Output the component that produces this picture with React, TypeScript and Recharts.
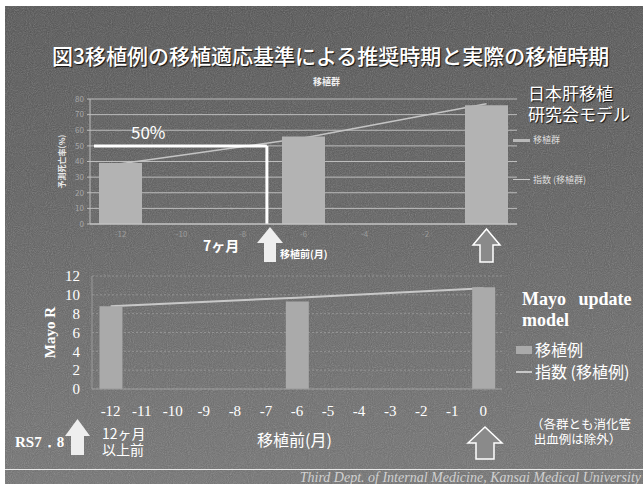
import React from 'react';
import { ComposedChart, Bar, Line, XAxis, YAxis, CartesianGrid, ReferenceLine } from 'recharts';

// ---- data: top chart (日本肝移植研究会モデル) ----
const topMonths = [-12, -6, 0];
const topGroupRates = [39, 56, 76]; // 移植群
const topIndexRates = [38.5, 55, 77]; // 指数 (移植群)
const topXTicks = [-12, -10, -8, -6, -4, -2];
const topYTicks = [0, 10, 20, 30, 40, 50, 60, 70, 80];
const thresholdRate = 50;
const thresholdMonth = -7.2;

// ---- data: bottom chart (Mayo update model) ----
const bottomMonths = [-12, -6, 0];
const bottomMayo = [8.8, 9.3, 10.8]; // 移植例
const bottomIndex = [8.8, 9.7, 10.7]; // 指数 (移植例)
const bottomXTicks = [-12, -11, -10, -9, -8, -7, -6, -5, -4, -3, -2, -1, 0];
const bottomYTicks = [0, 2, 4, 6, 8, 10, 12];

const topData = topMonths.map((m, i) => ({ month: m, group: topGroupRates[i], index: topIndexRates[i] }));
const bottomData = bottomMonths.map((m, i) => ({ month: m, group: bottomMayo[i], index: bottomIndex[i] }));

const JP = '"Noto Sans CJK JP", "Noto Sans", sans-serif';
const SERIF = '"Liberation Serif", "DejaVu Serif", serif';

const abs = (left: number, top: number, extra: React.CSSProperties = {}): React.CSSProperties => ({
  position: 'absolute',
  left,
  top,
  whiteSpace: 'nowrap',
  lineHeight: 1,
  ...extra,
});

export default function App() {
  return (
    <div
      style={{
        position: 'absolute',
        left: 0,
        top: 0,
        width: 643,
        height: 484,
        overflow: 'hidden',
        background: '#ffffff',
      }}
    >
      {/* slide background */}
      <div
        style={{
          position: 'absolute',
          left: 5,
          top: 6,
          width: 638,
          height: 478,
          background: 'linear-gradient(180deg, #515151 0%, #5a5a5a 35%, #676767 70%, #707070 100%)',
        }}
      />
      {/* noise overlay */}
      <svg width={643} height={484} style={{ position: 'absolute', left: 0, top: 0 }}>
        <filter id="noise" x="0" y="0" width="100%" height="100%">
          <feTurbulence type="fractalNoise" baseFrequency="0.95" numOctaves={2} seed={3} />
          <feColorMatrix type="saturate" values="0" />
          <feComponentTransfer>
            <feFuncA type="linear" slope={0.35} />
          </feComponentTransfer>
        </filter>
        <rect x={5} y={6} width={638} height={478} filter="url(#noise)" />
      </svg>

      {/* title */}
      <div
        style={abs(52, 45, {
          fontFamily: JP,
          fontSize: 21,
          fontWeight: 500,
          color: '#ffffff',
          textShadow: '1px 1px 1px #111',
        })}
      >
        図3移植例の移植適応基準による推奨時期と実際の移植時期
      </div>
      <div style={abs(313, 77, { fontFamily: JP, fontSize: 9, fontWeight: 700, color: '#f0f0f0' })}>移植群</div>

      {/* top chart */}
      <div style={{ position: 'absolute', left: 0, top: 80 }}>
        <ComposedChart width={540} height={190} data={topData} margin={{ top: 19, right: 23, bottom: 16, left: 50 }}>
          <CartesianGrid horizontal vertical={false} stroke="#bcbcbc" strokeWidth={1} />
          <XAxis
            dataKey="month"
            type="number"
            domain={[-13, 1]}
            ticks={topXTicks}
            interval={0}
            height={30}
            tickSize={0}
            tickMargin={7}
            axisLine={{ stroke: '#c8c8c8' }}
            tick={{ fill: '#9c9c9c', fontSize: 8, fontFamily: JP }}
          />
          <YAxis
            type="number"
            domain={[0, 80]}
            ticks={topYTicks}
            interval={0}
            width={40}
            tickSize={3}
            tickMargin={3}
            axisLine={{ stroke: '#bdbdbd' }}
            tickLine={{ stroke: '#bdbdbd' }}
            tick={{ fill: '#a8a8a8', fontSize: 8, fontFamily: JP }}
            label={{
              value: '予測死亡率(%)',
              angle: -90,
              position: 'insideLeft',
              offset: 12,
              style: { textAnchor: 'middle', fill: '#e8e8e8', fontSize: 8, fontFamily: JP, fontWeight: 700 },
            }}
          />
          <Line
            dataKey="index"
            type="linear"
            stroke="#c4c4c4"
            strokeWidth={1.5}
            dot={false}
            isAnimationActive={false}
            zIndex={250}
          />
          <Bar dataKey="group" fill="#b3b3b3" barSize={43} isAnimationActive={false} />
          <ReferenceLine
            segment={[
              { x: -12.87, y: thresholdRate },
              { x: thresholdMonth, y: thresholdRate },
            ]}
            stroke="#ffffff"
            strokeWidth={3}
            ifOverflow="visible"
          />
          <ReferenceLine
            segment={[
              { x: thresholdMonth, y: thresholdRate },
              { x: thresholdMonth, y: 0 },
            ]}
            stroke="#ffffff"
            strokeWidth={3}
            ifOverflow="visible"
          />
        </ComposedChart>
      </div>

      {/* top annotations */}
      <div style={abs(131, 123, { fontFamily: JP, fontSize: 17, color: '#ffffff' })}>50%</div>
      <div style={abs(203, 238, { fontFamily: JP, fontSize: 14, fontWeight: 700, color: '#ffffff' })}>7ヶ月</div>
      <div style={abs(280, 249, { fontFamily: JP, fontSize: 10, fontWeight: 700, color: '#ffffff' })}>移植前(月)</div>
      <div
        style={abs(528, 82, {
          fontFamily: JP,
          fontSize: 17,
          lineHeight: '21px',
          whiteSpace: 'pre',
          color: '#ffffff',
          textShadow: '1px 1px 1px #111',
        })}
      >
        {'日本肝移植\n研究会モデル'}
      </div>
      {/* top legend */}
      <div style={abs(513, 139, { width: 17, height: 3, background: '#b8b8b8' })} />
      <div style={abs(533, 135, { fontFamily: JP, fontSize: 9, color: '#dddddd' })}>移植群</div>
      <div style={abs(513, 179, { width: 17, height: 1, background: '#c8c8c8' })} />
      <div style={abs(533, 175, { fontFamily: JP, fontSize: 9, color: '#dddddd' })}>指数 (移植群)</div>

      {/* bottom chart */}
      <div style={{ position: 'absolute', left: 0, top: 260 }}>
        <ComposedChart width={530} height={180} data={bottomData} margin={{ top: 16, right: 28, bottom: 16, left: 42 }}>
          <CartesianGrid horizontal vertical={false} stroke="#939393" strokeDasharray="2 2" />
          <XAxis
            dataKey="month"
            type="number"
            domain={[-12.6, 0.6]}
            ticks={bottomXTicks}
            interval={0}
            height={35}
            tickSize={0}
            tickMargin={16}
            axisLine={{ stroke: '#9a9a9a' }}
            tick={{ fill: '#ffffff', fontSize: 15, fontFamily: SERIF }}
          />
          <YAxis
            type="number"
            domain={[0, 12]}
            ticks={bottomYTicks}
            interval={0}
            width={50}
            tickSize={0}
            tickMargin={12}
            axisLine={{ stroke: '#9a9a9a' }}
            tick={{ fill: '#ffffff', fontSize: 15, fontFamily: SERIF }}
            label={{
              value: 'Mayo R',
              angle: -90,
              position: 'insideLeft',
              offset: 8,
              style: { textAnchor: 'middle', fill: '#ffffff', fontSize: 15, fontFamily: SERIF, fontWeight: 700 },
            }}
          />
          <Line
            dataKey="index"
            type="linear"
            stroke="#c8c8c8"
            strokeWidth={2}
            dot={false}
            isAnimationActive={false}
            zIndex={250}
          />
          <Bar dataKey="group" fill="#aaaaaa" barSize={23} isAnimationActive={false} />
        </ComposedChart>
      </div>

      {/* bottom annotations */}
      <div
        style={abs(522, 289, {
          fontFamily: SERIF,
          fontSize: 18,
          fontWeight: 700,
          color: '#ffffff',
          wordSpacing: 8,
          whiteSpace: 'pre',
          lineHeight: '21px',
        })}
      >
        {'Mayo update\nmodel'}
      </div>
      <div style={abs(516, 346, { width: 16, height: 8, background: '#aaaaaa' })} />
      <div style={abs(535, 341, { fontFamily: JP, fontSize: 16, color: '#ffffff' })}>移植例</div>
      <div style={abs(516, 371, { width: 16, height: 2, background: '#c8c8c8' })} />
      <div style={abs(535, 363, { fontFamily: JP, fontSize: 16, color: '#ffffff' })}>指数 (移植例)</div>
      <div
        style={abs(531, 416, {
          fontFamily: JP,
          fontSize: 12.5,
          color: '#ffffff',
          whiteSpace: 'pre',
          lineHeight: '15px',
        })}
      >
        {'（各群とも消化管\n 出血例は除外）'}
      </div>
      <div style={abs(257, 431, { fontFamily: JP, fontSize: 16, color: '#ffffff' })}>移植前(月)</div>
      <div style={abs(15, 435, { fontFamily: SERIF, fontSize: 15, fontWeight: 700, color: '#ffffff' })}>RS7．8</div>
      <div
        style={abs(102, 425, {
          fontFamily: JP,
          fontSize: 14,
          color: '#ffffff',
          whiteSpace: 'pre',
          lineHeight: '16px',
        })}
      >
        {'12ヶ月\n以上前'}
      </div>

      {/* footer */}
      <div style={abs(5, 469, { width: 638, height: 1, background: '#e8e8e8' })} />
      <div
        style={abs(0, 471, {
          width: 641,
          textAlign: 'right',
          fontFamily: SERIF,
          fontStyle: 'italic',
          fontSize: 14,
          color: '#d0d0d0',
        })}
      >
        Third Dept. of Internal Medicine, Kansai Medical University
      </div>

      {/* arrows */}
      <svg width={643} height={484} style={{ position: 'absolute', left: 0, top: 0, pointerEvents: 'none' }}>
        <polygon points="257,243 270,227 283,243 276,243 276,262 264,262 264,243" fill="#eeeeee" />
        <polygon points="65,436 77.5,419 90,436 84,436 84,455 71,455 71,436" fill="#eeeeee" />
        <polygon
          points="473,245 486.5,229 500,245 493,245 493,262 480,262 480,245"
          fill="#8a8a8a"
          stroke="#ffffff"
          strokeWidth={1.5}
        />
        <polygon
          points="468,443 485,427 502,443 494,443 494,459 476,459 476,443"
          fill="#8a8a8a"
          stroke="#ffffff"
          strokeWidth={1.5}
        />
      </svg>
    </div>
  );
}
